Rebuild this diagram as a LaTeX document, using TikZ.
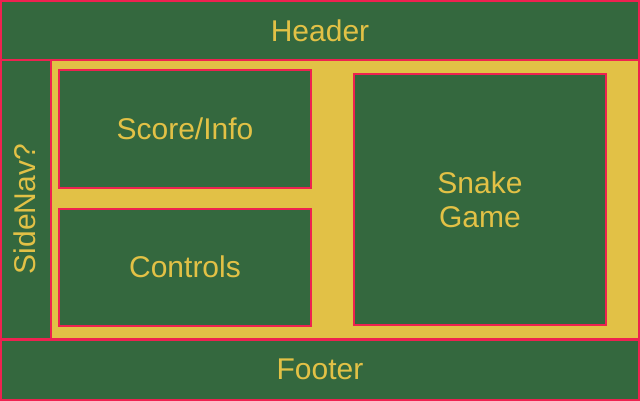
\documentclass[tikz,border=0pt]{standalone}
\usepackage{fontspec}
\setmainfont{Liberation Sans}
\definecolor{boxgreen}{RGB}{52,104,62}
\definecolor{boxyellow}{RGB}{226,193,70}
\definecolor{boxred}{RGB}{238,34,80}
\tikzset{
  region/.style={draw=boxred, line width=2pt, fill=boxgreen, text=boxyellow,
    inner sep=0pt, outer sep=0pt, align=center, font=\fontsize{30}{34}\selectfont},
  holder/.style={draw=boxred, line width=2pt, fill=boxyellow, inner sep=0pt, outer sep=0pt}
}
\begin{document}
\begin{tikzpicture}[x=1pt,y=-1pt]
\useasboundingbox (0,0) rectangle (640,400);
\fill[boxgreen] (0,0) rectangle (640,400);
\node[region, minimum width=638pt, minimum height=59pt] (header) at (320,30.5) {Header};
\node[region, minimum width=638pt, minimum height=60pt] (footer) at (320,369.5) {Footer};
\node[region, minimum width=50pt, minimum height=279pt] (side) at (26,199.5) {};
\node[rotate=90, text=boxyellow, font=\fontsize{30}{34}\selectfont] (sidetext) at (25,209) {SideNav?};
\node[holder, minimum width=588pt, minimum height=279pt] (main) at (345,199.5) {};
\node[region, minimum width=252pt, minimum height=118pt] (score) at (185,129) {Score/Info};
\node[region, minimum width=252pt, minimum height=117pt] (controls) at (185,267) {Controls};
\node[region, minimum width=252pt, minimum height=251pt] (snake) at (480,199.5) {Snake\\Game};
\end{tikzpicture}
\end{document}
